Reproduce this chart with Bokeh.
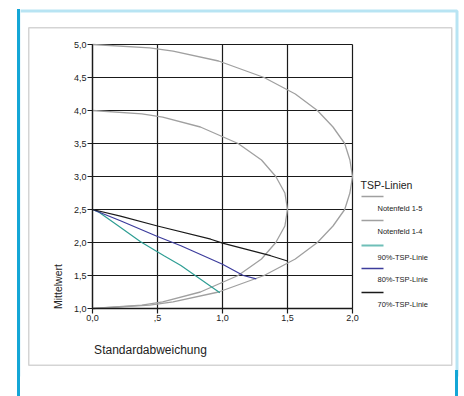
import math
from bokeh.plotting import figure
from bokeh.models import Range1d, FixedTicker, Label, BoxAnnotation, Arrow
from bokeh.embed import file_html
from bokeh.resources import INLINE

# ---- data ----
nf15_mean = [5.0, 4.95, 4.9, 4.75, 4.5, 4.25, 4.0, 3.75, 3.5, 3.25, 3.0,
             2.75, 2.5, 2.25, 2.0, 1.75, 1.5, 1.25, 1.1, 1.05, 1.0]
nf15_sd = [0.0, 0.44, 0.62, 0.97, 1.32, 1.56, 1.73, 1.85, 1.94, 1.98, 2.0,
           1.98, 1.94, 1.85, 1.73, 1.56, 1.32, 0.97, 0.62, 0.44, 0.0]

nf14_mean = [4.0, 3.95, 3.9, 3.75, 3.5, 3.25, 3.0, 2.75, 2.5, 2.25, 2.0,
             1.75, 1.5, 1.25, 1.1, 1.05, 1.0]
nf14_sd = [0.0, 0.38, 0.54, 0.83, 1.12, 1.30, 1.41, 1.48, 1.5, 1.48, 1.41,
           1.30, 1.12, 0.83, 0.54, 0.38, 0.0]

tsp90_sd = [0.0, 0.05, 0.2, 0.37, 0.55, 0.68, 0.79, 0.98]
tsp90_mean = [2.5, 2.46, 2.25, 2.01, 1.80, 1.65, 1.5, 1.24]

tsp80_sd = [0.0, 0.215, 0.5, 0.68, 1.0, 1.16, 1.26]
tsp80_mean = [2.5, 2.33, 2.09, 1.95, 1.67, 1.5, 1.45]

tsp70_sd = [0.0, 0.215, 0.5, 0.91, 1.0, 1.37, 1.5]
tsp70_mean = [2.5, 2.40, 2.25, 2.05, 1.99, 1.80, 1.72]

x_ticks = [0.0, 0.5, 1.0, 1.5, 2.0]
x_tick_labels = ["0,0", ",5", "1,0", "1,5", "2,0"]
y_ticks = [1.0, 1.5, 2.0, 2.5, 3.0, 3.5, 4.0, 4.5, 5.0]
y_tick_labels = ["1,0", "1,5", "2,0", "2,5", "3,0", "3,5", "4,0", "4,5", "5,0"]

x_title = "Standardabweichung"
y_title = "Mittelwert"
legend_title = "TSP-Linien"
legend_names = ["Notenfeld 1-5", "Notenfeld 1-4", "90%-TSP-Linie",
                "80%-TSP-Linie", "70%-TSP-Linie"]

# ---- styling / layout (canvas pixel coordinates) ----
FONT = "Liberation Sans"
GRAY = "#a0a0a0"
TEAL = "#2f9e94"
NAVY = "#3c3c9c"
BLACK = "#1a1a1a"
TXT = "#222222"
CYAN = "#14a6d6"
BOXG = "#727272"
legend_colors = [GRAY, GRAY, "#6fbfb8", NAVY, BLACK]
legend_widths = [1.3, 1.3, 2.0, 1.3, 1.3]

W, H = 464, 396
PAD_L, PAD_B = 20, 20          # side panels holding the axes
F_LEFT, F_RIGHT = PAD_L, W
F_TOP, F_BOTTOM = 0, H - PAD_B
X0_PX, X_PER = 92.0, 130.0     # x=0 at px 92, 130 px per unit
Y5_PX, Y_PER = 44.0, 66.0      # y=5 at px 44, 66 px per unit

x_range = Range1d((F_LEFT - X0_PX) / X_PER, (F_RIGHT - X0_PX) / X_PER)
y_range = Range1d(5 - (F_BOTTOM - Y5_PX) / Y_PER, 5 + (Y5_PX - F_TOP) / Y_PER)

p = figure(width=W, height=H, output_backend="svg", toolbar_location=None,
           x_range=x_range, y_range=y_range,
           min_border_left=PAD_L, min_border_bottom=PAD_B,
           min_border_top=0, min_border_right=0,
           styles={
               "background-image": f"linear-gradient({CYAN},{CYAN}), linear-gradient({CYAN},{CYAN})",
               "background-position": "17px 9px, 455px 370px",
               "background-size": "3px 400px, 3px 40px",
               "background-repeat": "no-repeat, no-repeat",
           })
p.background_fill_color = None
p.border_fill_color = None
p.outline_line_color = None
p.xgrid.visible = False
p.ygrid.visible = False

for ax, ticks, labels, loc in ((p.xaxis[0], x_ticks, x_tick_labels, y_ticks[0]),
                               (p.yaxis[0], y_ticks, y_tick_labels, x_ticks[0])):
    ax.ticker = FixedTicker(ticks=ticks)
    ax.major_label_overrides = {t: l for t, l in zip(ticks, labels)}
    ax.fixed_location = loc
    ax.bounds = (ticks[0], ticks[-1])
    ax.minor_tick_line_color = None
    ax.major_tick_in = 0
    ax.major_tick_out = 5
    ax.major_tick_line_color = BLACK
    ax.major_tick_line_width = 1.2
    ax.axis_line_color = BLACK
    ax.axis_line_width = 1.3
    ax.major_label_text_font = FONT
    ax.major_label_text_font_size = "9px"
    ax.major_label_text_color = TXT
    ax.major_label_standoff = 1


def sx(px):
    return px - F_LEFT


def sy(py):
    return F_BOTTOM - py


def box(l, t, r, b, color, w):
    return BoxAnnotation(left=sx(l), right=sx(r), top=sy(t), bottom=sy(b),
                         left_units="screen", right_units="screen",
                         top_units="screen", bottom_units="screen",
                         fill_alpha=0, line_color=color, line_width=w,
                         level="underlay")


# decorative frames
p.add_layout(box(18.5, 10.5, 456.5, 430, CYAN, 3))
p.add_layout(box(28.25, 27.25, 451.25, 364.75, BOXG, 1.5))

# grid lines between the tick positions
p.segment(x0=[x_ticks[0]] * len(y_ticks), x1=[x_ticks[-1]] * len(y_ticks),
          y0=y_ticks, y1=y_ticks, line_color=BLACK, line_width=1.2)
p.segment(x0=x_ticks, x1=x_ticks, y0=[y_ticks[0]] * len(x_ticks),
          y1=[y_ticks[-1]] * len(x_ticks), line_color=BLACK, line_width=1.2)

# curves
p.line(nf15_sd, nf15_mean, line_color=GRAY, line_width=1.3)
p.line(nf14_sd, nf14_mean, line_color=GRAY, line_width=1.3)
p.line(tsp90_sd, tsp90_mean, line_color=TEAL, line_width=1.2)
p.line(tsp80_sd, tsp80_mean, line_color=NAVY, line_width=1.2)
p.line(tsp70_sd, tsp70_mean, line_color=BLACK, line_width=1.2)

# axis titles
p.add_layout(Label(x=sx(57), y=sy(286), x_units="screen", y_units="screen",
                   text=y_title, angle=math.pi / 2, text_align="center",
                   text_baseline="middle", text_font=FONT,
                   text_font_size="10.5px", text_color=TXT))
p.add_layout(Label(x=sx(150), y=sy(349), x_units="screen", y_units="screen",
                   text=x_title, text_align="center",
                   text_baseline="middle", text_font=FONT,
                   text_font_size="12px", text_color=TXT))

# legend: title, then each sample line with its label below-right
p.add_layout(Label(x=sx(360), y=sy(184), x_units="screen", y_units="screen",
                   text=legend_title, text_align="left", text_baseline="middle",
                   text_font=FONT, text_font_size="10.5px", text_color=TXT))
line_ys = [196, 220, 245, 268, 292]
text_ys = [208, 231, 257, 279, 304]
for name, col, lw, ly, ty in zip(legend_names, legend_colors, legend_widths,
                                 line_ys, text_ys):
    p.add_layout(Arrow(x_start=sx(361), y_start=sy(ly), x_end=sx(383), y_end=sy(ly),
                       start_units="screen", end_units="screen", end=None,
                       line_color=col, line_width=lw))
    p.add_layout(Label(x=sx(377), y=sy(ty), x_units="screen", y_units="screen",
                       text=name, text_align="left", text_baseline="middle",
                       text_font=FONT, text_font_size="7.5px", text_color=TXT))

open("out.html", "w").write(file_html(p, INLINE))
